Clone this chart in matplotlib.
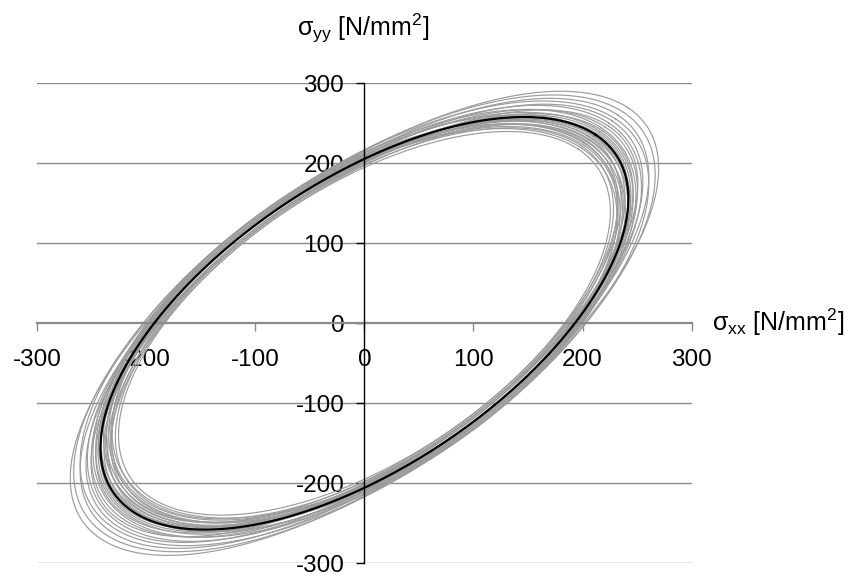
import numpy as np
import matplotlib
matplotlib.use("Agg")
import matplotlib.pyplot as plt

plt.rcParams['font.family'] = ['Liberation Sans', 'DejaVu Sans']
plt.rcParams['mathtext.fontset'] = 'custom'
plt.rcParams['mathtext.rm'] = 'Liberation Sans'
plt.rcParams['mathtext.it'] = 'Liberation Sans:italic'
plt.rcParams['axes.unicode_minus'] = False

# yield loci as rotated ellipses: semi-axes (major, minor) in N/mm2, major-axis angle in deg
mean_major = 317.0
mean_minor = 157.0
mean_angle = 48.0

# scattered loci (grey)
major_list = [293, 296, 298, 300, 302, 303, 305, 306, 308, 309,
              311, 312, 314, 315, 317, 319, 321, 323, 325, 327,
              330, 333, 336, 340, 344, 349, 355, 362]
minor_list = [150, 159, 152, 157, 161, 154, 159, 150, 163, 157,
              152, 161, 154, 159, 164, 152, 157, 161, 154, 163,
              159, 152, 161, 157, 164, 159, 163, 161]
angle_list = [48.0, 47.6, 48.3, 47.8, 48.1, 48.4, 47.7, 48.2, 47.9, 48.0,
              48.5, 47.6, 48.1, 47.9, 48.3, 47.7, 48.0, 48.2, 47.8, 48.4,
              48.0, 47.7, 48.2, 48.1, 47.9, 48.3, 48.0, 48.1]

xticks = [-300, -200, -100, 0, 100, 200, 300]
yticks = [-300, -200, -100, 0, 100, 200, 300]


def locus(a, b, ang, n=400):
    t = np.linspace(0, 2 * np.pi, n)
    phi = np.deg2rad(ang)
    u, v = a * np.cos(t), b * np.sin(t)
    return u * np.cos(phi) - v * np.sin(phi), u * np.sin(phi) + v * np.cos(phi)


fig = plt.figure(figsize=(8.56, 5.75), dpi=100)
ax = fig.add_axes([0.0436, 0.0203, 0.7643, 0.8348])

for a, b, ang in zip(major_list, minor_list, angle_list):
    x, y = locus(a, b, ang)
    ax.plot(x, y, color='#9c9c9c', lw=0.85, zorder=2)

x, y = locus(mean_major, mean_minor, mean_angle)
ax.plot(x, y, color='black', lw=1.6, zorder=3)

ax.set_xlim(-300, 300)
ax.set_ylim(-300, 300)
ax.set_xticks(xticks)
ax.set_yticks(yticks)

for yv in yticks:
    if yv != 0:
        ax.axhline(yv, color='#8a8a8a', lw=1.0, zorder=1)

ax.spines[['top', 'right']].set_visible(False)
ax.spines['left'].set_position(('data', 0))
ax.spines['bottom'].set_position(('data', 0))
ax.spines['left'].set_color('black')
ax.spines['left'].set_linewidth(1.0)
ax.spines['bottom'].set_color('#8a8a8a')
ax.spines['bottom'].set_linewidth(1.6)
ax.spines['left'].set_zorder(4)

ax.tick_params(axis='x', direction='out', length=5.5, width=1.0,
               color='#8a8a8a', pad=13, labelsize=17.5)
ax.tick_params(axis='y', direction='out', length=5.5, width=1.0,
               color='black', pad=9, labelsize=17.5)

fig.text(363.5 / 856, 1 - 28 / 575, r'$\mathrm{\sigma_{yy}}$ [N/mm$^\mathrm{2}$]',
         ha='center', va='center', fontsize=18)
fig.text(712 / 856, 1 - 322 / 575, r'$\mathrm{\sigma_{xx}}$ [N/mm$^\mathrm{2}$]',
         ha='left', va='center', fontsize=18)

fig.savefig('out.png', dpi=100)
